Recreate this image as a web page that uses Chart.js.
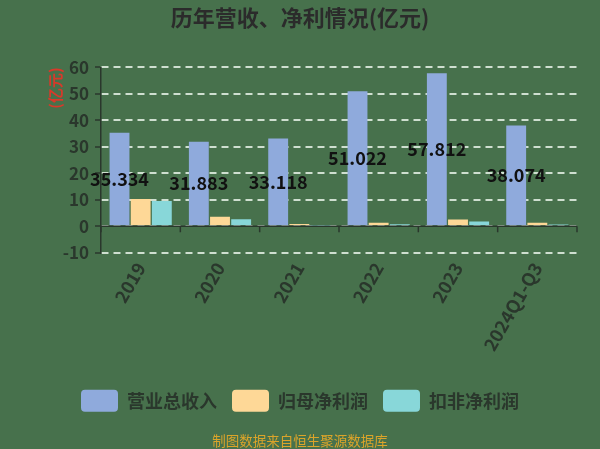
<!DOCTYPE html>
<html><head><meta charset="utf-8">
<script src="https://cdn.jsdelivr.net/npm/chart.js@4"></script>
<style>html,body{margin:0;padding:0;background:#47714c;overflow:hidden;} #wrap{width:600px;height:449px;}</style>
</head><body><div id="wrap"><canvas id="c" width="600" height="449"></canvas></div>
<script>
const categories = ['2019', '2020', '2021', '2022', '2023', '2024Q1-Q3'];
const revenue = [35.334, 31.883, 33.118, 51.022, 57.812, 38.074];
const netProfit = [10.3, 3.6, 0.9, 1.3, 2.6, 1.3];
const deductedProfit = [9.6, 2.7, 0.1, 0.8, 1.8, 0.7];
const seriesNames = ['营业总收入', '归母净利润', '扣非净利润'];
const yMin = -10, yMax = 60, yStep = 10;
const titleText = '历年营收、净利情况(亿元)';
const unitText = '(亿元)';
const footerText = '制图数据来自恒生聚源数据库';

const FONT = '"Noto Sans CJK SC", "Noto Sans", sans-serif';
const DARK = '#2a372c';
const BG = '#47714c';

const bgPlugin = {
  id: 'bg',
  beforeDraw(chart) {
    const ctx = chart.ctx;
    ctx.save();
    ctx.fillStyle = BG;
    ctx.fillRect(0, 0, chart.width, chart.height);
    ctx.restore();
  }
};

const axisPlugin = {
  id: 'zeroAxis',
  afterDatasetsDraw(chart) {
    const ctx = chart.ctx;
    const x = chart.scales.x, y = chart.scales.y;
    const y0 = y.getPixelForValue(0);
    ctx.save();
    ctx.strokeStyle = DARK;
    ctx.lineWidth = 1.5;
    ctx.beginPath();
    ctx.moveTo(chart.chartArea.left, y0);
    ctx.lineTo(chart.chartArea.right, y0);
    for (let i = 0; i <= categories.length; i++) {
      const px = x.getPixelForValue(i - 0.5);
      ctx.moveTo(px, y0);
      ctx.lineTo(px, y0 + 6);
    }
    ctx.stroke();
    // value labels on revenue bars
    const meta = chart.getDatasetMeta(0);
    ctx.font = 'bold 18px ' + FONT;
    ctx.fillStyle = '#111111';
    ctx.textAlign = 'center';
    ctx.textBaseline = 'middle';
    meta.data.forEach((bar, i) => {
      ctx.fillText(revenue[i].toFixed(3), bar.x, (bar.y + bar.base) / 2);
    });
    ctx.restore();
  }
};

new Chart(document.getElementById('c'), {
  type: 'bar',
  data: {
    labels: categories,
    datasets: [
      { label: seriesNames[0], data: revenue, backgroundColor: '#8faadc', borderWidth: 0 },
      { label: seriesNames[1], data: netProfit, backgroundColor: '#fed897', borderWidth: 0 },
      { label: seriesNames[2], data: deductedProfit, backgroundColor: '#88d7d9', borderWidth: 0 }
    ]
  },
  options: {
    responsive: false,
    animation: false,
    devicePixelRatio: 1,
    datasets: { bar: { categoryPercentage: 0.8, barPercentage: 0.94 } },
    layout: { padding: { left: 0, right: 0, top: 0, bottom: 0 } },
    plugins: {
      title: {
        display: true, text: titleText, color: '#2b2b2b',
        font: { family: FONT, size: 22, weight: 'bold' },
        padding: { top: 4, bottom: 37 }
      },
      subtitle: {
        display: true, text: footerText, position: 'bottom', color: '#dba42a',
        font: { family: FONT, size: 13.5 },
        padding: { top: 11, bottom: 0 }
      },
      legend: {
        position: 'bottom',
        labels: {
          boxWidth: 37, boxHeight: 22, useBorderRadius: true, borderRadius: 4,
          color: DARK, padding: 15,
          font: { family: FONT, size: 18, weight: 'bold' }
        }
      },
      tooltip: { enabled: false }
    },
    scales: {
      x: {
        grid: { display: false },
        border: { display: false },
        ticks: {
          color: DARK, minRotation: 60, maxRotation: 60, padding: -2,
          font: { family: FONT, size: 18, weight: 'bold' }
        },
        afterFit(scale) { scale.height = 122; }
      },
      y: {
        min: yMin, max: yMax,
        ticks: { stepSize: yStep, color: DARK, padding: 6, font: { family: FONT, size: 17, weight: 'bold' } },
        grid: {
          color: 'rgba(232,242,232,0.85)', lineWidth: 2,
          tickColor: DARK, tickLength: 6, tickWidth: 1.5
        },
        border: { display: true, color: DARK, width: 1.5, dash: [7, 5] },
        title: {
          display: true, text: unitText, align: 'end', color: '#d8392a',
          font: { family: FONT, size: 15, weight: 'bold' }, padding: { top: 46, bottom: 0 }
        },
        afterFit(scale) { scale.width = 101; }
      },
      yRight: {
        position: 'right',
        grid: { display: false },
        border: { display: false },
        ticks: { display: false },
        afterFit(scale) { scale.width = 23; }
      }
    }
  },
  plugins: [bgPlugin, axisPlugin]
});
</script>
</body></html>
